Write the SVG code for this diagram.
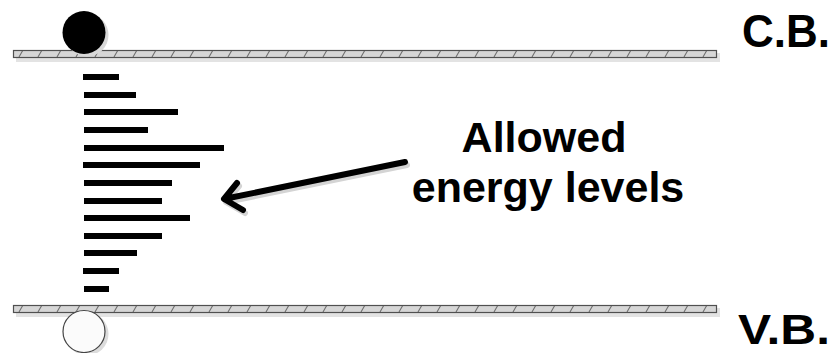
<svg xmlns="http://www.w3.org/2000/svg" width="837" height="353" viewBox="0 0 837 353">
<style>
.band{fill:url(#hatch);stroke:#505050;stroke-width:1.2}
.bandshadow{fill:#e3e3e3}
.lvl{fill:#000}
.lbl{font-family:"Liberation Sans",Arial,sans-serif;font-weight:bold;fill:#000}
.arr{fill:none;stroke:#000;stroke-width:6;stroke-linecap:round;stroke-linejoin:round}
.arrsh{fill:none;stroke:#d4d4d4;stroke-width:6;stroke-linecap:round;stroke-linejoin:round}
</style>
<defs>
<pattern id="hatch" patternUnits="userSpaceOnUse" x="13" y="0" width="19" height="353">
<rect x="0" y="0" width="19" height="353" fill="#d6d6d6"/>
<path d="M6 57 L10 50 M6 312 L10 305" stroke="#707070" stroke-width="1.1"/>
</pattern>
</defs>
<g id="cb-band">
<rect class="bandshadow" x="16" y="53" width="704" height="9"/>
<rect class="band" x="13.5" y="50.5" width="703" height="7"/>
</g>
<g id="vb-band">
<rect class="bandshadow" x="16" y="308" width="704" height="9"/>
<rect class="band" x="13.5" y="305.5" width="703" height="7"/>
</g>
<g id="electron">
<circle cx="87" cy="35" r="21.5" fill="#d8d8d8"/>
<circle cx="84" cy="32.5" r="21.5" fill="#000"/>
</g>
<g id="hole">
<circle cx="87" cy="334" r="21.5" fill="#dcdcdc"/>
<circle cx="84" cy="331.5" r="21" fill="#fbfbfb" stroke="#444" stroke-width="1.2"/>
</g>
<g id="levels">
<rect class="lvl" x="83" y="74" width="36" height="6"/>
<rect class="lvl" x="84" y="92" width="52" height="6"/>
<rect class="lvl" x="84" y="109" width="94" height="6"/>
<rect class="lvl" x="84" y="127" width="64" height="6"/>
<rect class="lvl" x="84" y="145" width="140" height="6"/>
<rect class="lvl" x="83" y="162" width="117" height="6"/>
<rect class="lvl" x="84" y="180" width="88" height="6"/>
<rect class="lvl" x="84" y="198" width="78" height="6"/>
<rect class="lvl" x="84" y="215" width="106" height="6"/>
<rect class="lvl" x="84" y="233" width="78" height="6"/>
<rect class="lvl" x="84" y="250" width="53" height="6"/>
<rect class="lvl" x="83" y="268" width="36" height="6"/>
<rect class="lvl" x="84" y="286" width="25" height="6"/>
</g>
<g id="connectors">
<g transform="translate(2,3)">
<path class="arrsh" d="M405 162 L224 199 M237 183 L224 199 L243 210"/>
</g>
<path class="arr" d="M405 162 L224 199 M237 183 L224 199 L243 210"/>
</g>
<g id="labels">
<text class="lbl" x="544" y="152" font-size="43" text-anchor="middle">Allowed</text>
<text class="lbl" x="548" y="202" font-size="43" text-anchor="middle">energy levels</text>
<text class="lbl" x="742" y="47" font-size="46" textLength="88" lengthAdjust="spacingAndGlyphs">C.B.</text>
<text class="lbl" x="738" y="344" font-size="42" textLength="92" lengthAdjust="spacingAndGlyphs">V.B.</text>
</g>
</svg>
